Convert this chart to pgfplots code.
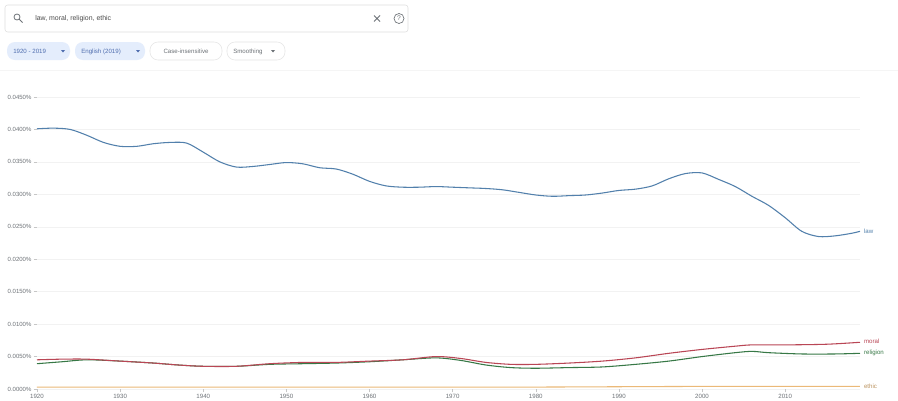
\documentclass[border=0pt]{standalone}
\usepackage{pgfplots}
\pgfplotsset{compat=1.18}
\usepackage{fontspec}
\setmainfont{Liberation Sans}
\definecolor{lawc}{RGB}{82,128,172}
\definecolor{moralc}{RGB}{185,70,85}
\definecolor{relc}{RGB}{55,120,70}
\definecolor{ethc}{RGB}{235,185,120}
\definecolor{chipfill}{RGB}{228,237,252}
\definecolor{chiptext}{RGB}{80,110,175}
\definecolor{greytext}{RGB}{110,115,120}
\begin{document}
\begin{tikzpicture}
\useasboundingbox (0,0) rectangle (673.5pt,-300pt);
\fill[white] (0,0) rectangle (673.5pt,-300pt);
\begin{scope}[x=0.75pt,y=-0.75pt]
  % search box
  \draw[gray!25,fill=white,rounded corners=2pt] (5,5) rectangle (408,32);
  \draw[greytext,line width=0.6pt] (17,17) circle (3);
  \draw[greytext,line width=0.7pt] (19.2,19.2) -- (22.5,22.5);
  \node[anchor=west,inner sep=0pt,font=\fontsize{5.2}{6}\selectfont,text=black!70] at (35,18.5) {law, moral, religion, ethic};
  \draw[greytext,line width=0.6pt] (374,15.5) -- (380,21.5) (380,15.5) -- (374,21.5);
  \draw[greytext,line width=0.5pt] (399,18.5) circle (5);
  \node[inner sep=0pt,font=\fontsize{5}{6}\selectfont,text=greytext] at (399,18.5) {?};
  % chips
  \fill[chipfill,rounded corners=6pt] (7,42) rectangle (70,60);
  \node[anchor=base west,inner sep=0pt,font=\fontsize{4.6}{5}\selectfont,text=chiptext] at (13,53) {1920 - 2019};
  \fill[chiptext] (61,50) -- (65,50) -- (63,52.5) -- cycle;
  \fill[chipfill,rounded corners=6pt] (75,42) rectangle (145,60);
  \node[anchor=base west,inner sep=0pt,font=\fontsize{4.6}{5}\selectfont,text=chiptext] at (81,53) {English (2019)};
  \fill[chiptext] (136,50) -- (140,50) -- (138,52.5) -- cycle;
  \draw[gray!20,rounded corners=6pt] (150,42) rectangle (222,60);
  \node[anchor=base,inner sep=0pt,font=\fontsize{4.6}{5}\selectfont,text=greytext] at (186,53) {Case-insensitive};
  \draw[gray!20,rounded corners=6pt] (227,42) rectangle (285,60);
  \node[anchor=base west,inner sep=0pt,font=\fontsize{4.6}{5}\selectfont,text=greytext] at (233,53) {Smoothing};
  \fill[greytext] (271,50) -- (275,50) -- (273,52.5) -- cycle;
  \draw[gray!8,line width=0.5pt] (0,70) -- (898,70);
\end{scope}
\begin{axis}[
  at={(27.75pt,-291.75pt)}, anchor=south west,
  scale only axis, width=617.25pt, height=219pt,
  xmin=1920, xmax=2019, ymin=0, ymax=0.045,
  clip=false,
  scaled y ticks=false,
  axis line style={draw=none},
  tick pos=left, tick align=outside,
  major tick length=2.5pt,
  tick style={gray!45, line width=0.4pt},
  xtick={1920,1930,...,2010},
  ytick={0,0.005,...,0.0451},
  ymajorgrids, grid style={gray!10, line width=0.4pt},
  /pgf/number format/assume math mode=true,
  xticklabel style={font=\fontsize{4.6}{5}\selectfont, text=greytext, /pgf/number format/1000 sep={}, inner sep=1pt},
  yticklabel={\pgfmathprintnumber[fixed,precision=4,zerofill]{\tick}\%},
  yticklabel style={font=\fontsize{4.5}{5}\selectfont, text=greytext, inner sep=1.5pt},
  every axis plot/.append style={line width=0.8pt, smooth, no markers},
]
\addplot[lawc] coordinates {
(1920,0.0401) (1922,0.0402) (1924,0.0400) (1926,0.0391) (1928,0.0380) (1930,0.0374)
(1932,0.0374) (1934,0.0378) (1936,0.0380) (1938,0.0379) (1940,0.0365) (1942,0.0350)
(1944,0.0342) (1946,0.0343) (1948,0.0346) (1950,0.0349) (1952,0.0347) (1954,0.0341)
(1956,0.0339) (1958,0.0331) (1960,0.0320) (1962,0.0313) (1964,0.0311) (1966,0.0311)
(1968,0.0312) (1970,0.0311) (1972,0.0310) (1974,0.0309) (1976,0.0307) (1978,0.0303)
(1980,0.0299) (1982,0.0297) (1984,0.0298) (1986,0.0299) (1988,0.0302) (1990,0.0306)
(1992,0.0308) (1994,0.0313) (1996,0.0324) (1998,0.0332) (2000,0.0333) (2002,0.0323)
(2004,0.0312) (2006,0.0297) (2008,0.0283) (2010,0.0264) (2012,0.0243) (2014,0.0235)
(2016,0.0236) (2018,0.0240) (2019,0.0243)
};
\addplot[relc] coordinates {
(1920,0.0039) (1923,0.0042) (1926,0.0045) (1930,0.0043) (1934,0.0040) (1937,0.0037)
(1940,0.0035) (1944,0.0035) (1948,0.0038) (1952,0.0039) (1956,0.0040) (1960,0.0042)
(1964,0.0045) (1968,0.0048) (1971,0.0044) (1974,0.0037) (1977,0.0033) (1980,0.0032)
(1984,0.0033) (1988,0.0034) (1992,0.0038) (1996,0.0043) (2000,0.0050) (2004,0.0056)
(2006,0.0058) (2008,0.0056) (2012,0.0054) (2016,0.0054) (2019,0.0055)
};
\addplot[moralc] coordinates {
(1920,0.0045) (1923,0.0046) (1926,0.0046) (1930,0.0043) (1934,0.0040) (1937,0.0037)
(1940,0.0035) (1944,0.0035) (1948,0.0039) (1952,0.0041) (1956,0.0041) (1960,0.0043)
(1964,0.0045) (1968,0.0050) (1971,0.0047) (1974,0.0041) (1977,0.0038) (1980,0.0038)
(1984,0.0040) (1988,0.0043) (1992,0.0048) (1996,0.0055) (2000,0.0061) (2004,0.0066)
(2006,0.0068) (2010,0.0068) (2015,0.0069) (2019,0.0072)
};
\addplot[ethc] coordinates {
(1920,0.0003) (1935,0.0003) (1950,0.0003) (1965,0.0003) (1980,0.0003) (2000,0.0004) (2019,0.0004)
};
\node[anchor=west,inner sep=1pt,font=\fontsize{4.6}{5}\selectfont,text=lawc] at (axis cs:2019.3,0.0243) {law};
\node[anchor=west,inner sep=1pt,font=\fontsize{4.6}{5}\selectfont,text=moralc] at (axis cs:2019.3,0.0074) {moral};
\node[anchor=west,inner sep=1pt,font=\fontsize{4.6}{5}\selectfont,text=relc] at (axis cs:2019.3,0.0055) {religion};
\node[anchor=west,inner sep=1pt,font=\fontsize{4.6}{5}\selectfont,text=ethc!80!black] at (axis cs:2019.3,0.0004) {ethic};
\end{axis}
\end{tikzpicture}
\end{document}
